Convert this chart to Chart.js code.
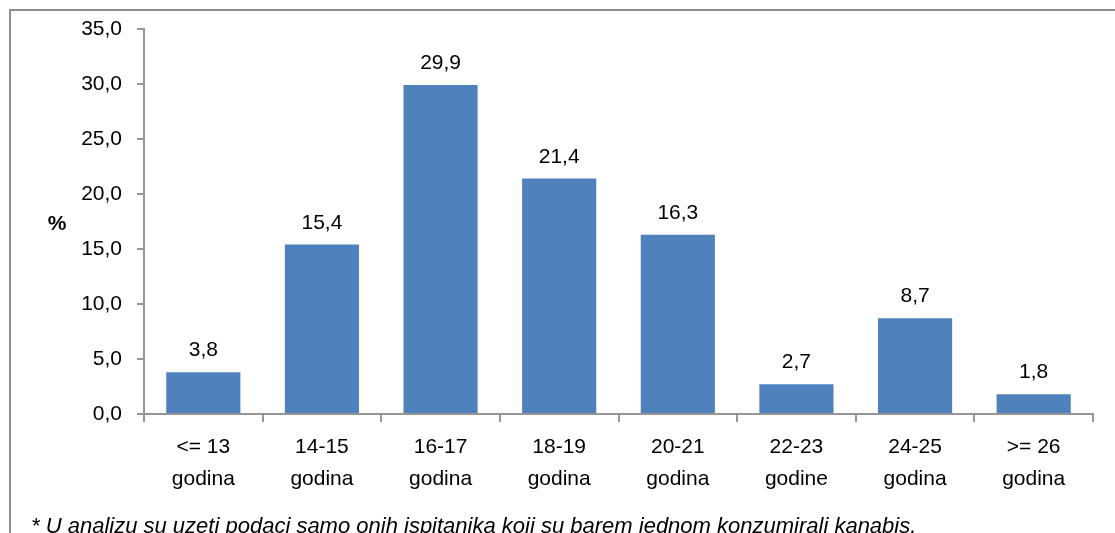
<!DOCTYPE html>
<html><head><meta charset="utf-8">
<script src="https://cdn.jsdelivr.net/npm/chart.js@4/dist/chart.umd.min.js"></script>
<style>
html,body{margin:0;padding:0;background:#fff;overflow:hidden;}
#wrap{position:relative;width:1115px;height:533px;overflow:hidden;}
#frame{position:absolute;left:9px;top:9px;width:1120px;height:600px;border-left:2px solid #8c8c8c;border-top:2px solid #8c8c8c;box-sizing:border-box;pointer-events:none;}
#note{position:absolute;left:31px;top:515px;font:italic 22px/1 "Liberation Sans",Arial,sans-serif;color:#000;white-space:nowrap;}
canvas{position:absolute;left:0;top:0;}
</style></head>
<body>
<div id="wrap">
<canvas id="c" width="1115" height="533"></canvas>
<div id="frame"></div>
<div id="note">* U analizu su uzeti podaci samo onih ispitanika koji su barem jednom konzumirali kanabis.</div>
</div>
<script>
const categories = [["<= 13","godina"],["14-15","godina"],["16-17","godina"],["18-19","godina"],["20-21","godina"],["22-23","godine"],["24-25","godina"],[">= 26","godina"]];
const values = [3.8, 15.4, 29.9, 21.4, 16.3, 2.7, 8.7, 1.8];
const yTicks = [0, 5, 10, 15, 20, 25, 30, 35];
const yAxisLabel = "%";

const FONT = '"Liberation Sans", Arial, sans-serif';
const fmt = v => v.toFixed(1).replace('.', ',');

const labelPlugin = {
  id: 'vals',
  afterDatasetsDraw(chart) {
    const ctx = chart.ctx;
    const meta = chart.getDatasetMeta(0);
    ctx.save();
    ctx.font = '21px ' + FONT;
    ctx.fillStyle = '#000';
    ctx.textAlign = 'center';
    ctx.textBaseline = 'alphabetic';
    meta.data.forEach((bar, i) => {
      ctx.fillText(fmt(values[i]), bar.x, bar.y - 16);
    });
    ctx.font = 'bold 21px ' + FONT;
    ctx.textBaseline = 'middle';
    ctx.fillText(yAxisLabel, 57, 224);
    ctx.restore();
  }
};

new Chart(document.getElementById('c'), {
  type: 'bar',
  data: {
    labels: categories,
    datasets: [{
      data: values,
      backgroundColor: '#4F81BD',
      borderWidth: 0,
      barPercentage: 0.625,
      categoryPercentage: 1.0
    }]
  },
  options: {
    responsive: false,
    animation: false,
    devicePixelRatio: 1,
    layout: { padding: { left: 0, right: 22, top: 29, bottom: 0 } },
    plugins: { legend: { display: false }, tooltip: { enabled: false } },
    scales: {
      x: {
        offset: true,
        grid: { display: true, drawOnChartArea: false, offset: true, color: '#969696', tickLength: 8, lineWidth: 2 },
        border: { display: true, color: '#969696', width: 2 },
        ticks: { color: '#000', font: { family: FONT, size: 21, lineHeight: 1.52 }, padding: 9, maxRotation: 0, autoSkip: false },
        afterFit(s) { s.height = 533 - 414; }
      },
      y: {
        min: 0, max: 35,
        afterBuildTicks(s) { s.ticks = yTicks.map(v => ({ value: v })); },
        grid: { display: true, drawOnChartArea: false, color: '#969696', tickLength: 7, lineWidth: 2 },
        border: { display: true, color: '#969696', width: 2 },
        ticks: { color: '#000', font: { family: FONT, size: 21 }, padding: 15, callback: v => fmt(v) },
        afterFit(s) { s.width = 144; }
      }
    }
  },
  plugins: [labelPlugin]
});
</script>
</body></html>
